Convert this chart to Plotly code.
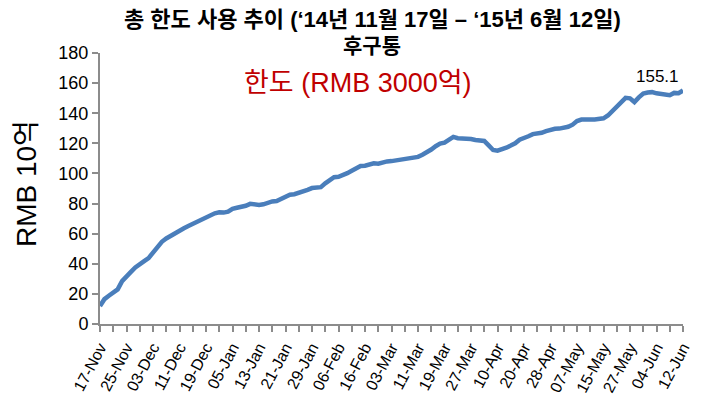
import plotly.graph_objects as go

tick_labels = ["17-Nov", "25-Nov", "03-Dec", "11-Dec", "19-Dec", "05-Jan", "13-Jan",
               "21-Jan", "29-Jan", "06-Feb", "16-Feb", "03-Mar", "11-Mar", "19-Mar",
               "27-Mar", "10-Apr", "20-Apr", "28-Apr", "07-May", "15-May", "27-May",
               "04-Jun", "12-Jun"]
points_per_label = 6

usage = [12.0, 16.5, 18.8, 20.7, 23.0, 28.5, 32.0, 34.6, 37.6, 40.2,
         41.8, 43.8, 47.8, 51.4, 54.6, 56.8, 58.7, 60.6, 62.3, 63.6,
         65.1, 66.5, 68.0, 69.5, 71.2, 72.4, 73.5, 74.2, 74.0, 74.6,
         76.5, 77.2, 77.8, 78.5, 79.8, 79.4, 79.1, 79.5, 80.7, 81.4,
         81.7, 83.1, 84.8, 85.9, 86.2, 87.0, 87.9, 89.1, 90.3, 90.6,
         90.9, 93.4, 95.4, 97.5, 97.8, 98.7, 100.2, 101.8, 103.5, 104.9,
         105.1, 105.7, 106.7, 106.5, 107.4, 108.0, 108.2, 108.6, 109.1, 109.6,
         109.9, 110.4, 111.0, 112.4, 114.0, 115.9, 118.1, 119.8, 120.5, 122.1,
         124.3, 123.4, 123.3, 123.3, 122.9, 122.2, 121.8, 121.6, 118.6, 115.6,
         115.1, 115.9, 117.1, 118.5, 120.0, 122.4, 123.2, 124.7, 126.1, 126.4,
         127.0, 128.1, 129.1, 129.7, 129.8, 130.2, 131.0, 132.4, 134.8, 135.8,
         136.1, 135.9, 135.9, 135.9, 136.6, 138.5, 141.4, 144.1, 147.5, 150.2,
         149.9, 147.4, 150.5, 153.1, 153.8, 154.0, 153.2, 152.6, 152.1, 152.0,
         153.5, 153.3, 155.1]

title_line1 = "총 한도 사용 추이 (‘14년 11월 17일 – ‘15년 6월 12일)"
title_line2 = "후구통"
limit_note = "한도 (RMB 3000억)"
y_title = "RMB 10억"
last_label = "155.1"

x_idx = list(range(len(usage)))
tickvals = [i * points_per_label for i in range(len(tick_labels))]

FONT = "Liberation Sans, Noto Sans CJK KR, sans-serif"
AX = "#8c8c8c"

fig = go.Figure()
fig.add_trace(go.Scatter(
    x=x_idx, y=usage, mode="lines",
    line=dict(color="#4a7ebb", width=4.5),
    hoverinfo="skip", showlegend=False,
))

# page body has an 8px margin; figure is sized/placed to compensate
fig.update_layout(
    width=695, height=393,
    margin=dict(l=92, r=20, t=45, b=77),
    paper_bgcolor="white", plot_bgcolor="white",
    font=dict(family=FONT, color="black"),
    showlegend=False,
)
fig.update_xaxes(
    range=[0, len(usage) - 1], automargin=False,
    tickmode="array", tickvals=tickvals, ticktext=tick_labels,
    tickangle=-62, tickfont=dict(size=16, family=FONT),
    showline=True, linecolor=AX, linewidth=2,
    ticks="outside", ticklen=6, tickcolor=AX, tickwidth=1.5,
    minor=dict(ticks="outside", dtick=3, tick0=0, ticklen=6, tickcolor=AX, tickwidth=1.5),
    showgrid=False, zeroline=False,
)
fig.update_yaxes(
    range=[0, 180], dtick=20, tick0=0, automargin=False,
    tickfont=dict(size=18, family=FONT),
    showline=True, linecolor=AX, linewidth=2,
    ticks="outside", ticklen=6, tickcolor=AX, tickwidth=1.5,
    showgrid=False, zeroline=False,
)

fig.add_annotation(xref="paper", yref="paper", x=0.4666, y=1.122,
                   text="<b>" + title_line1 + "</b>", showarrow=False,
                   xanchor="center", yanchor="middle",
                   font=dict(size=22, family=FONT, color="black"))
fig.add_annotation(xref="paper", yref="paper", x=0.4666, y=1.026,
                   text="<b>" + title_line2 + "</b>", showarrow=False,
                   xanchor="center", yanchor="middle",
                   font=dict(size=21, family=FONT, color="black"))
fig.add_annotation(xref="paper", yref="paper", x=0.4425, y=0.888,
                   text=limit_note, showarrow=False, xanchor="center", yanchor="middle",
                   font=dict(size=27, family=FONT, color="#c00000"))
fig.add_annotation(xref="paper", yref="paper", x=-0.127, y=0.52,
                   text=y_title, showarrow=False, textangle=-90,
                   xanchor="center", yanchor="middle",
                   font=dict(size=28, family=FONT, color="black"))
fig.add_annotation(xref="x", yref="y", x=x_idx[-1], y=usage[-1],
                   text=last_label, showarrow=False, xanchor="center", yanchor="middle",
                   xshift=-26, yshift=14,
                   font=dict(size=17, family=FONT, color="black"))

fig.write_html("out.html")
